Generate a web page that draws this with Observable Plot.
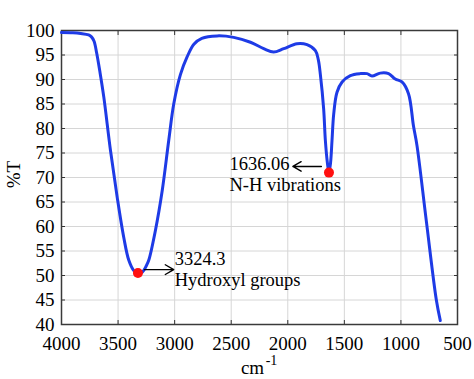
<!DOCTYPE html>
<html>
<head>
<meta charset="utf-8">
<script src="https://cdn.jsdelivr.net/npm/d3@7"></script>
<script src="https://cdn.jsdelivr.net/npm/@observablehq/plot@0.6"></script>
<style>
  html, body { margin: 0; padding: 0; background: #fff; }
  #chart svg, #chart svg text { font-family: "Liberation Serif", serif !important; }
</style>
</head>
<body>
<div id="chart"></div>
<script>
// Spectrum (wavenumber cm^-1, %T)
const wavenumber = [4000, 3900, 3830, 3760, 3735, 3712, 3690, 3660, 3626, 3567, 3508, 3450, 3405, 3361, 3324, 3285, 3250, 3229, 3170, 3110, 3052, 3008, 2949, 2890, 2830, 2760, 2625, 2478, 2330, 2213, 2125, 2036, 1918, 1830, 1756, 1730, 1712, 1683, 1668, 1650, 1636, 1622, 1609, 1594, 1565, 1520, 1447, 1359, 1300, 1256, 1183, 1109, 1050, 991, 933, 889, 858, 776, 687, 652];
const transmittance = [99.6, 99.55, 99.4, 99.1, 98.7, 97.8, 95.5, 91.5, 86.4, 75.5, 66.0, 57.8, 53.1, 51.0, 50.4, 50.7, 52.0, 53.1, 59.2, 67.3, 77.6, 85.0, 91.0, 94.6, 97.2, 98.4, 98.9, 98.6, 97.6, 96.3, 95.6, 96.3, 97.3, 97.1, 95.9, 94.0, 91.0, 84.0, 77.6, 73.0, 71.0, 73.0, 77.6, 83.0, 87.4, 89.5, 90.8, 91.2, 91.2, 90.7, 91.3, 91.2, 90.1, 89.5, 87.1, 80.5, 76.5, 61.2, 45.0, 40.8];

// Marked peaks
const peakX = [3324.3, 1636.06];
const peakY = [50.5, 71.0];

// Annotation texts
const labelText = ["3324.3", "Hydroxyl groups", "1636.06", "N-H vibrations"];
const labelX = [3000, 3000, 2516, 2516];
const labelY = [53.45, 49.15, 72.8, 68.55];

// Arrows (from, to)
const arrowX1 = [3267, 1703];
const arrowY1 = [51.2, 72.25];
const arrowX2 = [3008, 1955];
const arrowY2 = [51.2, 72.25];

// Axis ticks
const xTicks = [4000, 3500, 3000, 2500, 2000, 1500, 1000, 500];
const yTicks = [40, 45, 50, 55, 60, 65, 70, 75, 80, 85, 90, 95, 100];

const spectrum = wavenumber.map((w, i) => ({w, t: transmittance[i]}));
const peaks = peakX.map((x, i) => ({x, y: peakY[i]}));
const labels = labelText.map((s, i) => ({s, x: labelX[i], y: labelY[i]}));
const arrows = arrowX1.map((x1, i) => ({x1, y1: arrowY1[i], x2: arrowX2[i], y2: arrowY2[i]}));

const blank = () => "";
const fmt = d3.format("d");

const chart = Plot.plot({
  width: 474,
  height: 379,
  marginLeft: 61,
  marginRight: 17,
  marginTop: 30,
  marginBottom: 55,
  style: {fontFamily: "Liberation Serif", fontSize: "18px", color: "#000", background: "#fff"},
  x: {domain: [4000, 500], ticks: xTicks, label: null},
  y: {domain: [40, 100], ticks: yTicks, label: null},
  marks: [
    Plot.gridX(xTicks, {stroke: "#d6d6d6", strokeOpacity: 1}),
    Plot.gridY(yTicks, {stroke: "#d6d6d6", strokeOpacity: 1}),
    // tick labels
    Plot.axisX(xTicks, {anchor: "bottom", tickSize: 0, tickPadding: 12, tickFormat: fmt, label: null, fontSize: 19}),
    Plot.axisY(yTicks, {anchor: "left", tickSize: 0, tickPadding: 7, tickFormat: fmt, label: null, fontSize: 19}),
    // inward ticks on all sides
    Plot.axisX(xTicks, {anchor: "bottom", tickSize: -4, tickFormat: blank, label: null, stroke: "#333"}),
    Plot.axisX(xTicks, {anchor: "top", tickSize: -4, tickFormat: blank, label: null, stroke: "#333"}),
    Plot.axisY(yTicks, {anchor: "left", tickSize: -4, tickFormat: blank, label: null, stroke: "#333"}),
    Plot.axisY(yTicks, {anchor: "right", tickSize: -4, tickFormat: blank, label: null, stroke: "#333"}),
    Plot.frame({stroke: "#3a3a3a", strokeWidth: 1.5}),
    Plot.line(spectrum, {x: "w", y: "t", stroke: "#1e3be6", strokeWidth: 3, curve: "catmull-rom"}),
    Plot.arrow(arrows, {x1: "x1", y1: "y1", x2: "x2", y2: "y2", stroke: "#000", strokeWidth: 1.4, headLength: 11}),
    Plot.dot(peaks, {x: "x", y: "y", r: 5, fill: "#ff1010", stroke: "none"}),
    Plot.text(labels, {x: "x", y: "y", text: "s", textAnchor: "start", lineAnchor: "middle", fontSize: 18.5, fill: "#000"}),
    // axis titles
    Plot.text(["%T"], {frameAnchor: "left", textAnchor: "middle", lineAnchor: "middle", rotate: -90, dx: -48, dy: -3, fontSize: 19, fill: "#000"}),
    Plot.text(["cm"], {frameAnchor: "bottom", textAnchor: "middle", lineAnchor: "middle", dx: -7, dy: 43, fontSize: 19, fill: "#000"}),
    Plot.text(["-1"], {frameAnchor: "bottom", textAnchor: "middle", lineAnchor: "middle", dx: 12, dy: 36, fontSize: 14, fill: "#000"})
  ]
});

document.getElementById("chart").appendChild(chart);
</script>
</body>
</html>
